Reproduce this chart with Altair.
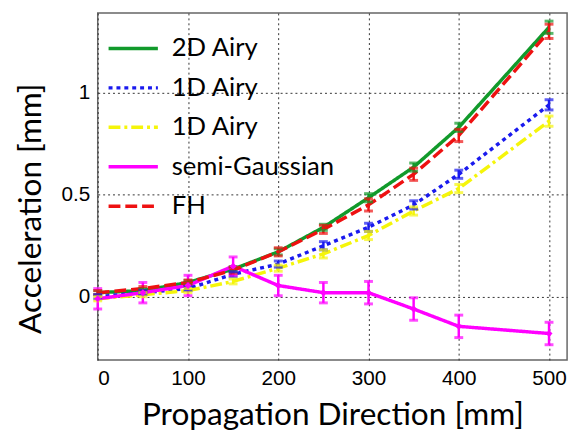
import altair as alt
import pandas as pd

x_vals = [0, 50, 100, 150, 200, 250, 300, 350, 400, 500]

series_names = ["2D Airy", "1D Airy", "1D Airy ", "semi-Gaussian", "FH"]
series_colors = ["#119a2b", "#1a1aee", "#f5f50a", "#ff00ff", "#ee1111"]

airy2d = [0.02, 0.03, 0.07, 0.135, 0.22, 0.34, 0.485, 0.635, 0.83, 1.32]
airy2d_err = [0.01, 0.01, 0.01, 0.012, 0.015, 0.015, 0.02, 0.02, 0.02, 0.03]
airy1d_a = [0.0, 0.02, 0.04, 0.11, 0.16, 0.25, 0.34, 0.45, 0.60, 0.94]
airy1d_a_err = [0.01, 0.01, 0.01, 0.012, 0.015, 0.02, 0.02, 0.02, 0.02, 0.025]
airy1d_b = [-0.01, 0.01, 0.03, 0.075, 0.14, 0.21, 0.30, 0.42, 0.53, 0.86]
airy1d_b_err = [0.01, 0.01, 0.01, 0.012, 0.015, 0.02, 0.02, 0.02, 0.02, 0.025]
semi_gauss = [-0.01, 0.02, 0.055, 0.15, 0.055, 0.02, 0.02, -0.06, -0.145, -0.18]
semi_gauss_err = [0.05, 0.05, 0.05, 0.045, 0.05, 0.05, 0.055, 0.055, 0.055, 0.055]
fh = [0.02, 0.04, 0.07, 0.13, 0.22, 0.33, 0.45, 0.60, 0.79, 1.30]
fh_err = [0.01, 0.01, 0.012, 0.015, 0.02, 0.02, 0.03, 0.03, 0.03, 0.035]

values = [airy2d, airy1d_a, airy1d_b, semi_gauss, fh]
errors = [airy2d_err, airy1d_a_err, airy1d_b_err, semi_gauss_err, fh_err]

rows = []
for name, vals, errs in zip(series_names, values, errors):
    for x, v, e in zip(x_vals, vals, errs):
        rows.append({"x": x, "y": v, "lo": v - e, "hi": v + e, "series": name})
df = pd.DataFrame(rows)

color_scale = alt.Scale(domain=series_names, range=series_colors)
dash_scale = alt.Scale(domain=series_names,
                       range=[[1, 0], [4, 4], [12, 4, 3, 4], [1, 0], [12, 5]])
width_scale = alt.Scale(domain=series_names, range=[3.5, 3.5, 3.5, 2, 3.5])

xs = alt.Scale(domain=[0, 520], nice=False)
ys = alt.Scale(domain=[-0.31, 1.39], nice=False)

legend_opts = dict(title=None, orient="none", legendX=9, legendY=9,
                   symbolType="stroke", symbolSize=2500, symbolStrokeWidth=7,
                   labelFont="Lato", labelFontSize=26, labelColor="#000",
                   labelOffset=12, rowPadding=-16, padding=0, labelLimit=300)

base = alt.Chart(df)

lines = base.mark_line().encode(
    x=alt.X("x:Q", scale=xs,
            axis=alt.Axis(values=[0, 100, 200, 300, 400, 500], title="Propagation Direction [mm]",
                          labelFont="Liberation Sans", labelFontSize=21, labelColor="#000",
                          labelPadding=8, titleFont="Lato", titleFontSize=32, titleColor="#000",
                          titleFontWeight="normal", titleBaseline="alphabetic", titleY=65,
                          grid=True, gridDash=[2, 3], gridColor="#333", gridOpacity=1,
                          ticks=False, domain=False)),
    y=alt.Y("y:Q", scale=ys,
            axis=alt.Axis(values=[0, 0.5, 1], format="~g", title="Acceleration [mm]",
                          labelFont="Liberation Sans", labelFontSize=21, labelColor="#000",
                          labelPadding=8, titleFont="Lato", titleFontSize=32, titleColor="#000",
                          titleFontWeight="normal", titleX=-68, titleY=198,
                          titleBaseline="middle", titleAlign="center",
                          grid=True, gridDash=[2, 3], gridColor="#333", gridOpacity=1,
                          ticks=False, domain=False)),
    color=alt.Color("series:N", scale=color_scale, sort=series_names,
                    legend=alt.Legend(**legend_opts)),
    strokeDash=alt.StrokeDash("series:N", scale=dash_scale, sort=series_names,
                              legend=alt.Legend(**legend_opts)),
    strokeWidth=alt.StrokeWidth("series:N", scale=width_scale, legend=None),
    order=alt.Order("x:Q"),
)

bars = base.mark_rule(strokeWidth=2.5).encode(
    x="x:Q", y="lo:Q", y2="hi:Q",
    color=alt.Color("series:N", scale=color_scale, legend=None),
)
cap_lo = base.mark_tick(orient="horizontal", size=9, thickness=3).encode(
    x="x:Q", y="lo:Q", color=alt.Color("series:N", scale=color_scale, legend=None),
)
cap_hi = base.mark_tick(orient="horizontal", size=9, thickness=3).encode(
    x="x:Q", y="hi:Q", color=alt.Color("series:N", scale=color_scale, legend=None),
)
pts = base.transform_filter(alt.datum.series == "semi-Gaussian").mark_point(
    shape="diamond", filled=True, size=50, opacity=1
).encode(x="x:Q", y="y:Q", color=alt.Color("series:N", scale=color_scale, legend=None))

chart = alt.layer(lines, bars, cap_lo, cap_hi, pts).properties(
    width=476, height=352,
    autosize=alt.AutoSizeParams(type="none"),
    padding={"left": 91, "top": 2, "right": 6, "bottom": 74},
    background="white",
).configure_view(stroke="#666", strokeWidth=1.5)

chart.save("out.html", embed_options={"renderer": "svg", "actions": False})
